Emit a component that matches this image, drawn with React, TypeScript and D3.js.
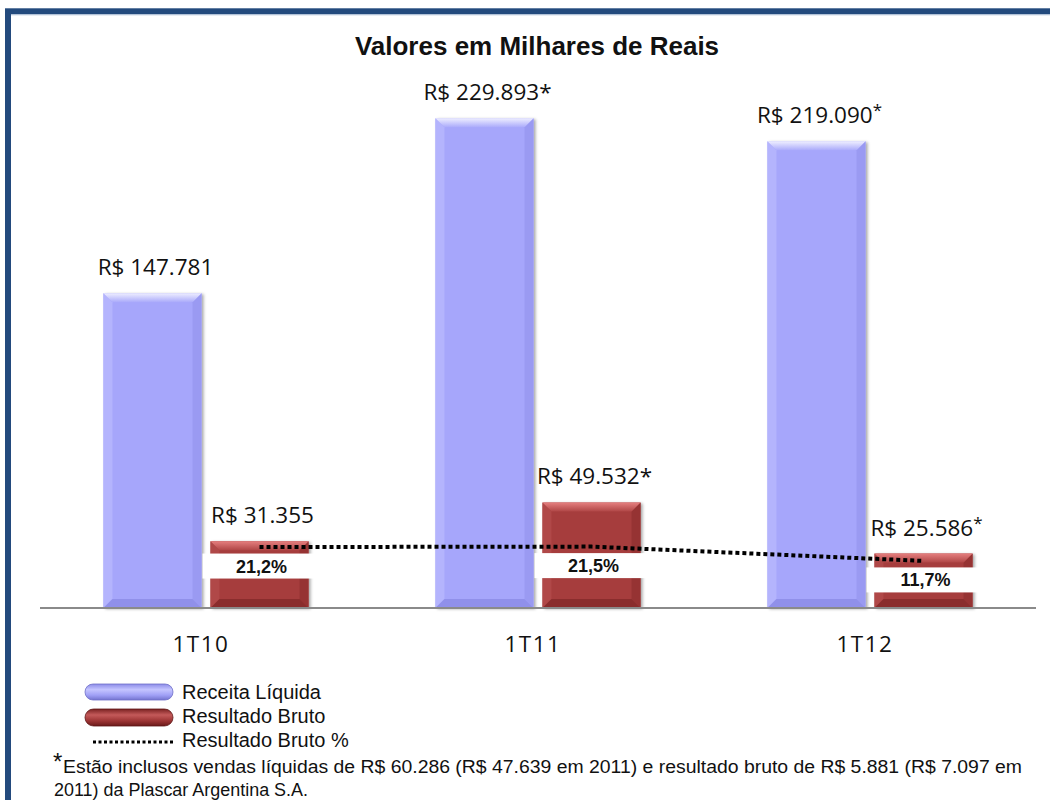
import React from 'react';
import * as d3 from 'd3';

const categories = ['1T10', '1T11', '1T12'];
const series = ['receita', 'bruto'];
const receitaLiquida = [147781, 229893, 219090];
const resultadoBruto = [31355, 49532, 25586];
const resultadoBrutoPct = [21.2, 21.5, 11.7];
// asterisk style per category: '' none, 'inline', 'sup'
const asteriskMode = ['', 'inline', 'sup'];
const legendLabels = ['Receita Líquida', 'Resultado Bruto', 'Resultado Bruto %'];
const titleText = 'Valores em Milhares de Reais';
const footnoteLine1 =
  'Estão inclusos vendas líquidas de R$ 60.286 (R$ 47.639 em 2011) e resultado bruto de R$ 5.881 (R$ 7.097 em';
const footnoteLine2 = '2011) da Plascar Argentina S.A.';

const W = 1050;
const H = 800;

const ptBR = d3.formatLocale({
  decimal: ',',
  thousands: '.',
  grouping: [3],
  currency: ['R$ ', ''],
});
const fmtMoney = ptBR.format('$,.0f');
const fmtPct = ptBR.format('.1f');

const PAL: Record<string, any> = {
  receita: { main: '#a6a6fb', left: '#b4b4fd', right: '#9a9af2', bottom: '#9090ea', topId: 'gTopBlue' },
  bruto: { main: '#a63d3d', left: '#b04848', right: '#963333', bottom: '#8a2d2d', topId: 'gTopRed' },
};

function BevelBar({ x, y, w, h, pal }: any) {
  const b = Math.min(9, h / 3);
  return (
    <g>
      <rect x={x} y={y} width={w} height={h} fill={pal.main} filter="url(#shadow)" />
      <polygon points={`${x},${y} ${x + b},${y + b} ${x + b},${y + h - b} ${x},${y + h}`} fill={pal.left} />
      <polygon points={`${x + w},${y} ${x + w - b},${y + b} ${x + w - b},${y + h - b} ${x + w},${y + h}`} fill={pal.right} />
      <polygon points={`${x},${y + h} ${x + b},${y + h - b} ${x + w - b},${y + h - b} ${x + w},${y + h}`} fill={pal.bottom} />
      <polygon points={`${x},${y} ${x + w},${y} ${x + w - b},${y + b} ${x + b},${y + b}`} fill={`url(#${pal.topId})`} />
    </g>
  );
}

function ValueLabel({ cx, baseline, value, mode }: any) {
  return (
    <text
      x={cx}
      y={baseline}
      textAnchor="middle"
      fontFamily="'Open Sans', sans-serif"
      fontSize={22.5}
      fill="#111"
    >
      {fmtMoney(value)}
      {mode === 'inline' && <tspan>*</tspan>}
      {mode === 'sup' && (
        <tspan fontSize={17} dy={-7}>
          *
        </tspan>
      )}
    </text>
  );
}

export default function App() {
  const x0 = d3.scaleBand().domain(categories).range([40, 1036]);
  const x1 = d3
    .scaleBand()
    .domain(series)
    .range([0, x0.bandwidth()])
    .paddingInner(0.084)
    .paddingOuter(0.593);
  const y = d3.scaleLinear().domain([0, 250000]).range([608, 75.5]);
  const y2 = d3.scaleLinear().domain([0, 50]).range([578, 505]);
  const bw = x1.bandwidth();

  const redCx = (c: string) => (x0(c) as number) + (x1('bruto') as number) + bw / 2;
  const blueCx = (c: string) => (x0(c) as number) + (x1('receita') as number) + bw / 2;

  const linePts: [number, number][] = categories.map((c, i) => [redCx(c), y2(resultadoBrutoPct[i])]);
  const lineGen = d3.line();

  return (
    <svg
      width={W}
      height={H}
      style={{ position: 'absolute', left: 0, top: 0, background: '#fff' }}
      fontFamily="'Liberation Sans', Arial, sans-serif"
    >
      <defs>
        <filter id="shadow" x="-20%" y="-10%" width="140%" height="130%">
          <feDropShadow dx="2" dy="1" stdDeviation="1.5" floodColor="#000" floodOpacity="0.35" />
        </filter>
        <linearGradient id="gTopBlue" x1="0" y1="0" x2="0" y2="1">
          <stop offset="0" stopColor="#eeeeff" />
          <stop offset="1" stopColor="#aaaafb" />
        </linearGradient>
        <linearGradient id="gTopRed" x1="0" y1="0" x2="0" y2="1">
          <stop offset="0" stopColor="#e57f7f" />
          <stop offset="1" stopColor="#b04646" />
        </linearGradient>
        <linearGradient id="gPillBlue" x1="0" y1="0" x2="0" y2="1">
          <stop offset="0" stopColor="#8c8ce8" />
          <stop offset="0.35" stopColor="#c4c4ff" />
          <stop offset="0.7" stopColor="#a0a0f6" />
          <stop offset="1" stopColor="#7474d0" />
        </linearGradient>
        <linearGradient id="gPillRed" x1="0" y1="0" x2="0" y2="1">
          <stop offset="0" stopColor="#7a2222" />
          <stop offset="0.35" stopColor="#c45a5a" />
          <stop offset="0.7" stopColor="#9c3434" />
          <stop offset="1" stopColor="#6a1a1a" />
        </linearGradient>
      </defs>

      <rect x={0} y={0} width={W} height={H} fill="#fff" />
      {/* frame */}
      <rect x={8} y={11.3} width={1070} height={820} fill="none" stroke="#234a7d" strokeWidth={6} />
      <line x1={11} x2={1050} y1={14.8} y2={14.8} stroke="#aebfd8" strokeWidth={1} />

      {/* title */}
      <text x={537} y={55} textAnchor="middle" fontWeight="bold" fontSize={26} fill="#111">
        {titleText}
      </text>

      {/* bars */}
      {categories.map((c, i) => {
        const xb = blueCx(c) - bw / 2;
        const xr = redCx(c) - bw / 2;
        return (
          <g key={c}>
            <BevelBar x={xb} y={y(receitaLiquida[i])} w={bw} h={y(0) - y(receitaLiquida[i])} pal={PAL.receita} />
            <BevelBar x={xr} y={y(resultadoBruto[i])} w={bw} h={y(0) - y(resultadoBruto[i])} pal={PAL.bruto} />
          </g>
        );
      })}

      {/* axis line */}
      <line x1={x0.range()[0]} x2={x0.range()[1]} y1={y(0)} y2={y(0)} stroke="#8a8a8a" strokeWidth={2} />

      {/* percent label boxes */}
      {categories.map((c, i) => {
        const cy = y2(resultadoBrutoPct[i]) + 19;
        return (
          <g key={c + 'p'}>
            <rect x={redCx(c) + 2 - 59} y={cy - 12.5} width={118} height={25} fill="#fff" />
            <text x={redCx(c) + 2} y={cy + 6.5} textAnchor="middle" fontWeight="bold" fontSize={18} fill="#111">
              {fmtPct(resultadoBrutoPct[i])}%
            </text>
          </g>
        );
      })}

      {/* percent line */}
      <path
        d={lineGen(linePts) as string}
        fill="none"
        stroke="#000"
        strokeWidth={4}
        strokeDasharray="4 3"
      />

      {/* value labels */}
      {categories.map((c, i) => (
        <g key={c + 'v'}>
          <ValueLabel cx={blueCx(c) + 3} baseline={y(receitaLiquida[i]) - 18} value={receitaLiquida[i]} mode={asteriskMode[i]} />
          <ValueLabel cx={redCx(c) + 3} baseline={y(resultadoBruto[i]) - 18} value={resultadoBruto[i]} mode={asteriskMode[i]} />
        </g>
      ))}

      {/* category labels */}
      {categories.map((c) => (
        <text
          key={c + 'c'}
          x={(x0(c) as number) + x0.bandwidth() / 2 - 5}
          y={652}
          textAnchor="middle"
          fontFamily="'Open Sans', sans-serif"
          fontSize={22.5}
          letterSpacing={1.5}
          fill="#111"
        >
          {c}
        </text>
      ))}

      {/* legend */}
      <rect x={85} y={684} width={88} height={16} rx={8} fill="url(#gPillBlue)" stroke="#6e6ec8" strokeWidth={0.8} />
      <rect x={85} y={709} width={88} height={17} rx={8.5} fill="url(#gPillRed)" stroke="#5e1515" strokeWidth={0.8} />
      <line x1={93} x2={174} y1={742} y2={742} stroke="#000" strokeWidth={3} strokeDasharray="3 2.5" />
      {legendLabels.map((l, i) => (
        <text key={l} x={182} y={699 + i * 24} fontSize={20} fill="#111">
          {l}
        </text>
      ))}

      {/* footnote */}
      <text x={53} y={770} fontSize={24} fill="#111">*</text>
      <text x={63} y={773} fontSize={17.5} fill="#111" textLength={959} lengthAdjust="spacingAndGlyphs">
        {footnoteLine1}
      </text>
      <text x={54} y={796} fontSize={17.5} fill="#111" textLength={254} lengthAdjust="spacingAndGlyphs">
        {footnoteLine2}
      </text>
    </svg>
  );
}
